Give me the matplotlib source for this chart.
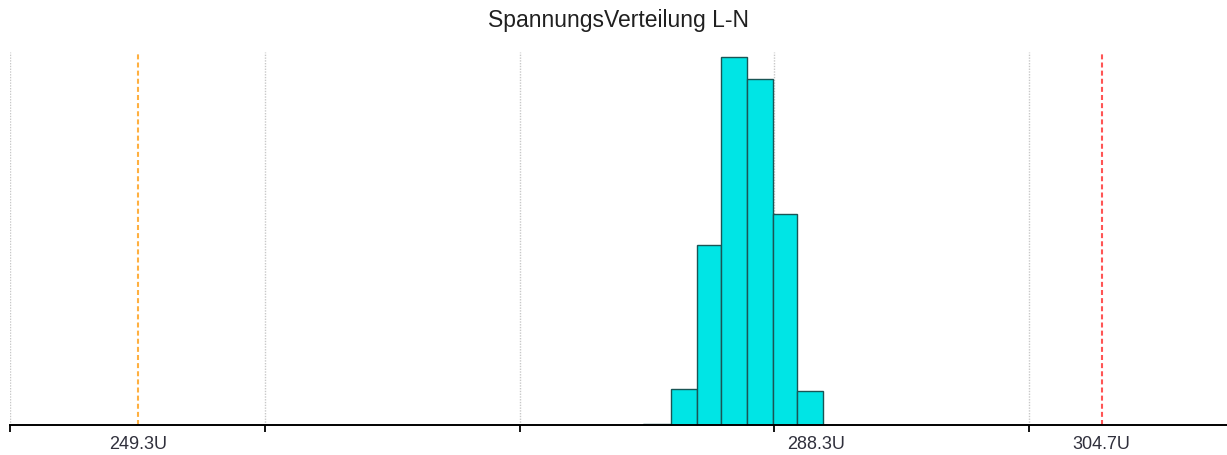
import matplotlib
matplotlib.use("Agg")
import matplotlib.pyplot as plt
import numpy as np

# histogram of the L-N voltage (relative counts)
bin_edges = [278.35, 279.93, 281.43, 282.81, 284.30, 285.79, 287.17, 288.67]
counts = [1, 36, 180, 368, 346, 211, 34]

# marker values shown under the axis
lower_limit = 249.3
mean_value = 288.3
upper_limit = 304.7
marker_labels = ["249.3U", "288.3U", "304.7U"]

# unlabeled grid ticks
grid_ticks = [241.96, 256.60, 271.25, 285.89, 300.53]

plt.rcParams['font.family'] = ['Liberation Sans', 'DejaVu Sans']

fig = plt.figure(figsize=(12.27, 4.55), dpi=100)
ax = fig.add_axes([10 / 1227, 30 / 455, 1217 / 1227, 373 / 455])

# bars
lefts = np.array(bin_edges[:-1])
widths = np.diff(bin_edges)
ax.bar(lefts, counts, width=widths, align='edge',
       color='#00E5E5', edgecolor='#1a5555', linewidth=1.0, zorder=3)

# limit lines
ax.axvline(lower_limit, color='#FFB040', linewidth=1.5,
           linestyle=(0, (2.4, 1.5)), zorder=2)
ax.axvline(upper_limit, color='#FF5555', linewidth=1.5,
           linestyle=(0, (2.4, 1.5)), zorder=2)

ax.set_xlim(241.96, 311.9)
ax.set_ylim(0, 373)

# grid ticks (no labels) + marker labels as minor ticks
ax.set_xticks(grid_ticks)
ax.set_xticklabels([])
ax.set_xticks([lower_limit, mean_value, upper_limit], minor=True)
ax.set_xticklabels(marker_labels, minor=True)
ax.tick_params(axis='x', which='major', length=5, width=1.3,
               direction='out', color='black')
ax.tick_params(axis='x', which='minor', length=0, pad=8,
               labelsize=13, labelcolor='#30303c')
ax.set_yticks([])

ax.grid(axis='x', which='major', linestyle=(0, (1, 1)), color='#c8c8c8',
        linewidth=1.0, zorder=0)

for side in ['top', 'left', 'right']:
    ax.spines[side].set_visible(False)
ax.spines['bottom'].set_linewidth(1.4)
ax.spines['bottom'].set_color('black')
ax.spines['bottom'].set_zorder(4)

ax.set_title("SpannungsVerteilung L-N", fontsize=16.5, color='#202020', pad=18)

fig.savefig("out.png", dpi=100)
